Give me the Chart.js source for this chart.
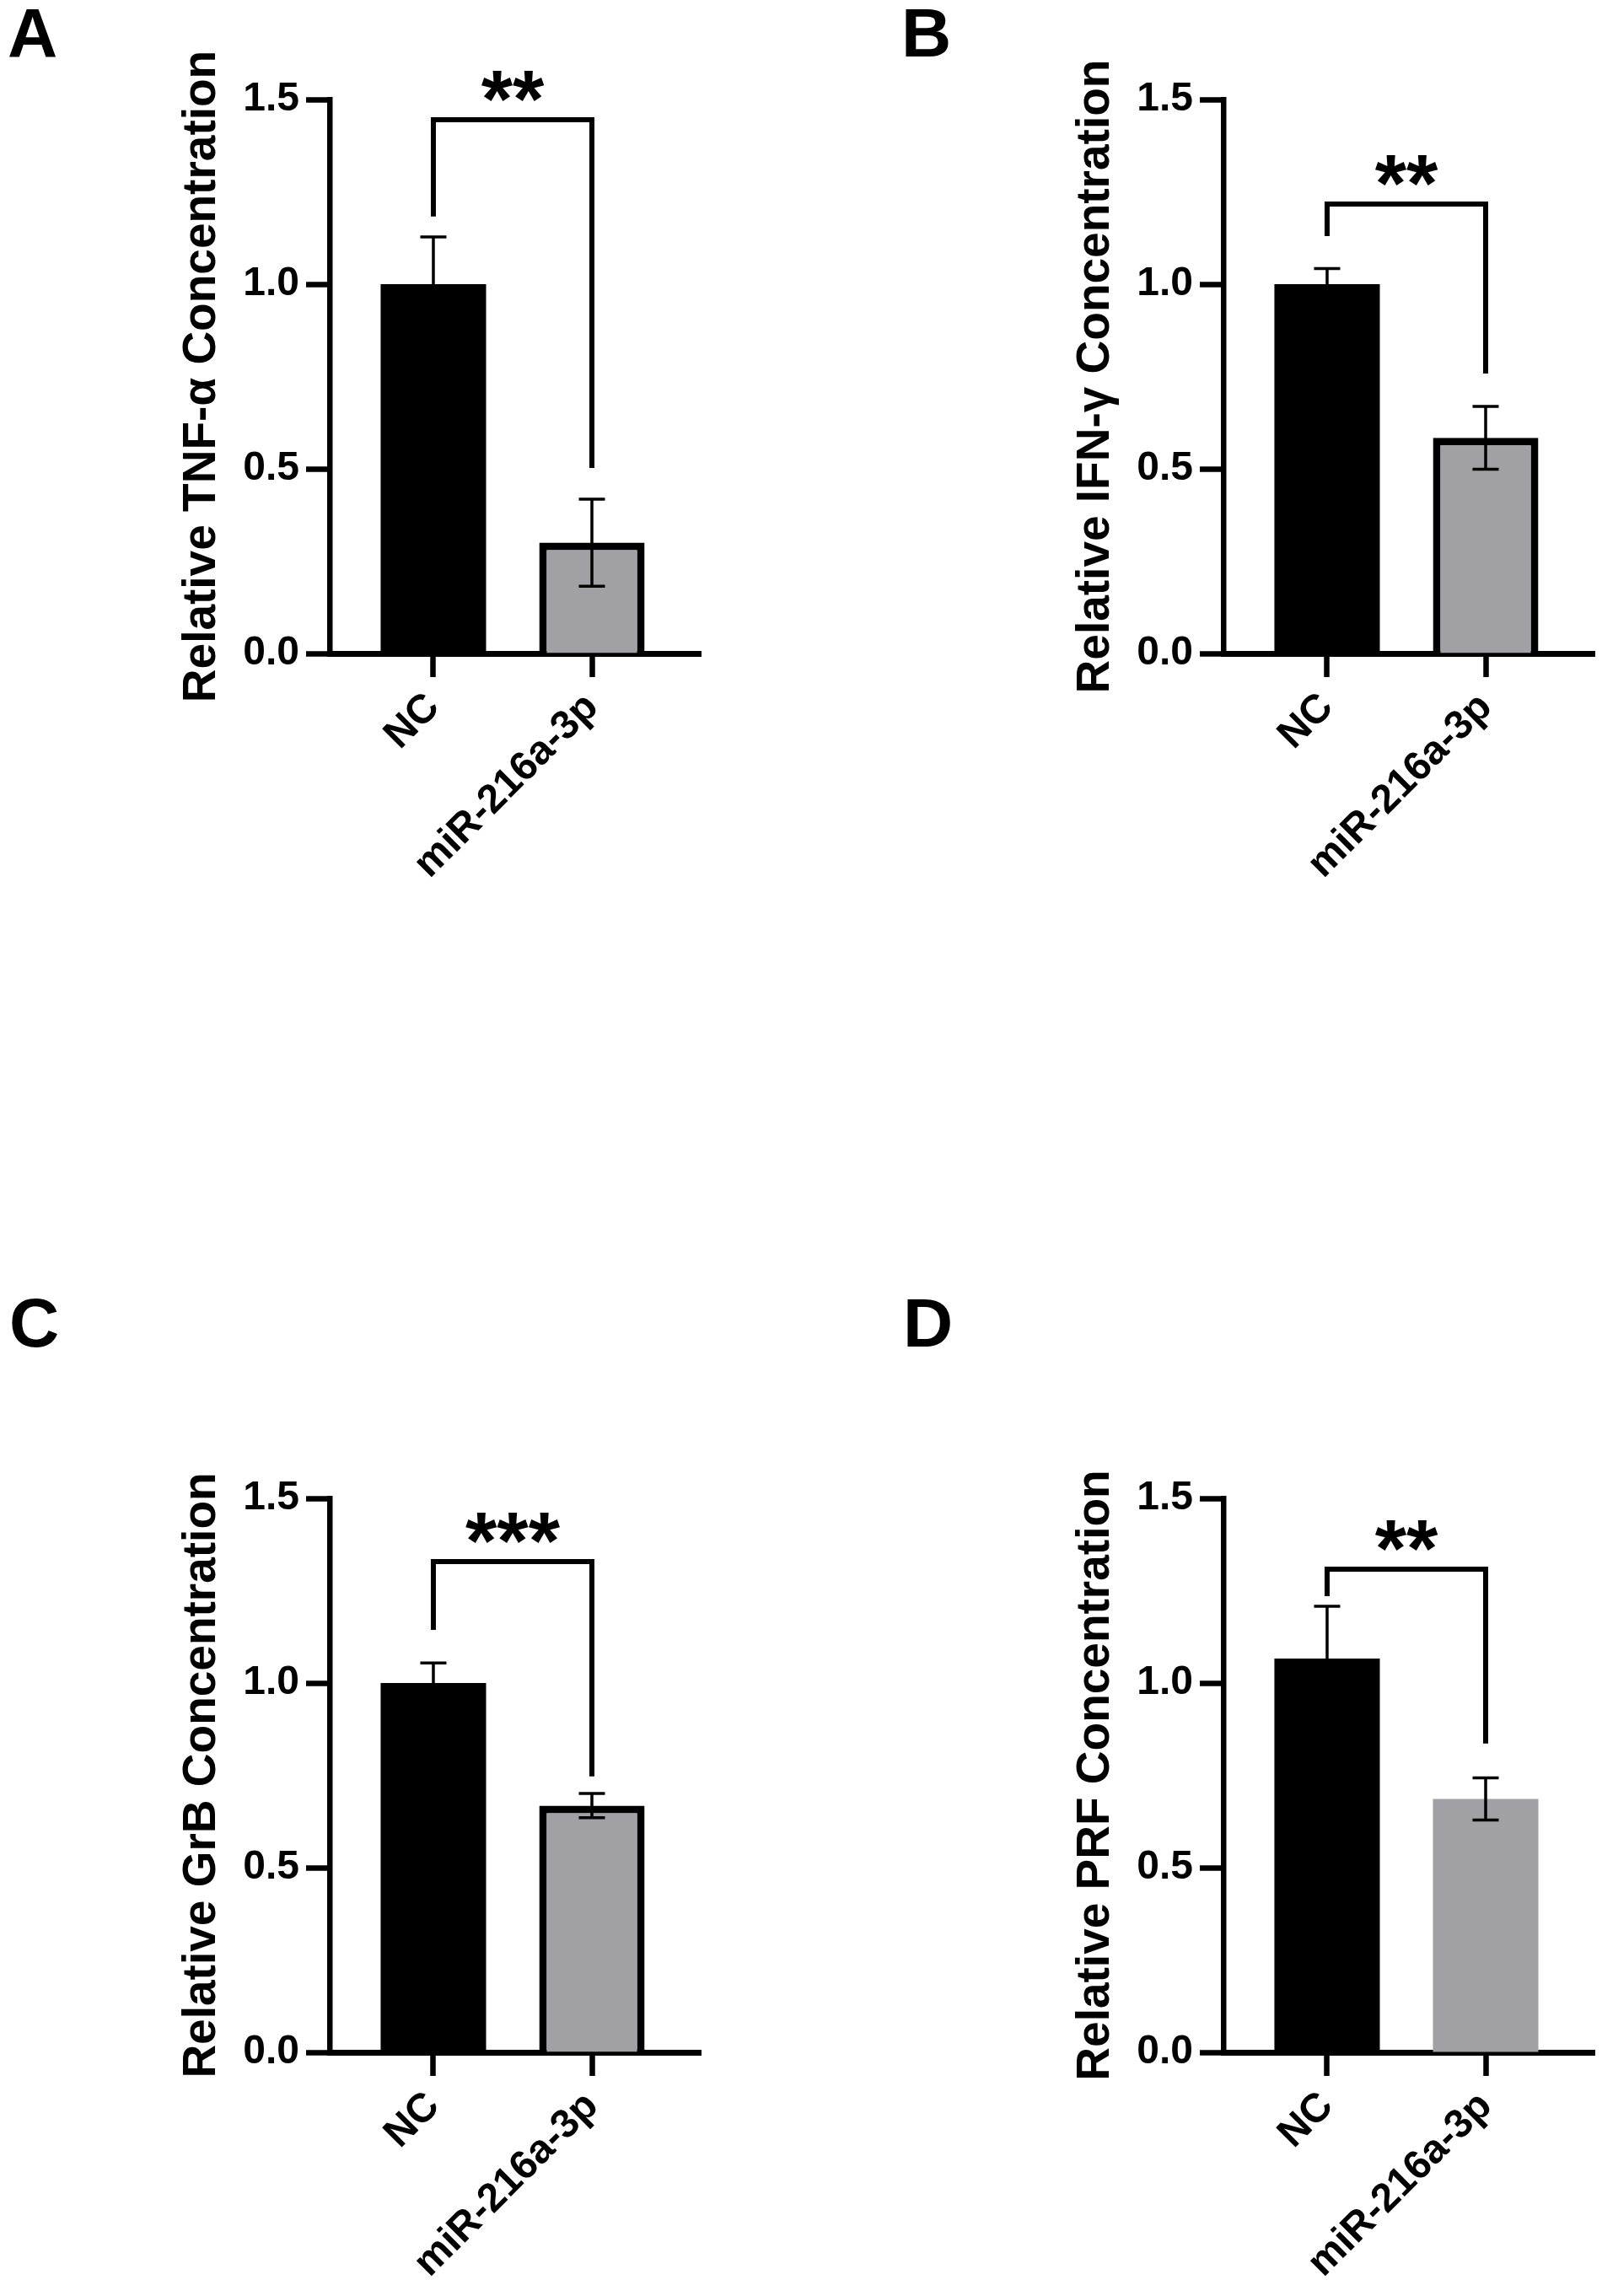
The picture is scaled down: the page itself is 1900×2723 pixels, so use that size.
<!DOCTYPE html>
<html>
<head>
<meta charset="utf-8">
<script src="https://cdn.jsdelivr.net/npm/chart.js@4.4.1/dist/chart.umd.min.js"></script>
<style>
    body { margin: 0; background: #fff; width: 1900px; height: 2723px; position: relative; overflow: hidden; }
    canvas { position: absolute; }
</style>
</head>
<body>
<canvas id="chartA" width="840" height="1060" style="left:0px;top:0px"></canvas>
<canvas id="chartB" width="840" height="1060" style="left:1060px;top:0px"></canvas>
<canvas id="chartC" width="840" height="1240" style="left:0px;top:1480px"></canvas>
<canvas id="chartD" width="840" height="1240" style="left:1060px;top:1480px"></canvas>
<script>
const categories = ['NC', 'miR-216a-3p'];
const yTicks = [0, 0.5, 1.0, 1.5];

// mean and SD per group, bracket = [top, left leg end, right leg end]
const tnfMean = [1.00, 0.30];
const tnfSd = [0.128, 0.118];
const tnfBracket = [1.445, 1.183, 0.502];

const ifnMean = [1.00, 0.584];
const ifnSd = [0.042, 0.085];
const ifnBracket = [1.217, 1.13, 0.758];

const grbMean = [1.00, 0.668];
const grbSd = [0.054, 0.033];
const grbBracket = [1.329, 1.144, 0.747];

const prfMean = [1.066, 0.686];
const prfSd = [0.142, 0.057];
const prfBracket = [1.308, 1.235, 0.836];

const FONT = "'Liberation Sans', Arial, sans-serif";
const GREY = '#a1a1a5';

// error bars, significance bracket and panel letter
const annotations = {
    id: 'annotations',
    afterDatasetsDraw(chart, args, opts) {
        const { ctx, scales: { x, y } } = chart;
        ctx.save();
        ctx.strokeStyle = '#000';
        ctx.lineWidth = 3.5;
        opts.means.forEach((m, i) => {
            const px = x.getPixelForValue(i + 1);
            const top = y.getPixelForValue(m + opts.sds[i]);
            const bot = y.getPixelForValue(m - opts.sds[i]);
            ctx.beginPath();
            ctx.moveTo(px, top);
            ctx.lineTo(px, bot);
            ctx.moveTo(px - 15.5, top);
            ctx.lineTo(px + 15.5, top);
            ctx.moveTo(px - 15.5, bot);
            ctx.lineTo(px + 15.5, bot);
            ctx.stroke();
        });

        const [bTop, bLeft, bRight] = opts.bracket;
        const x1 = x.getPixelForValue(1);
        const x2 = x.getPixelForValue(2);
        const yb = y.getPixelForValue(bTop);
        ctx.lineWidth = 6;
        ctx.lineJoin = 'miter';
        ctx.beginPath();
        ctx.moveTo(x1, y.getPixelForValue(bLeft));
        ctx.lineTo(x1, yb);
        ctx.lineTo(x2, yb);
        ctx.lineTo(x2, y.getPixelForValue(bRight));
        ctx.stroke();

        ctx.fillStyle = '#000';
        ctx.font = `bold 96px ${FONT}`;
        ctx.textAlign = 'center';
        ctx.textBaseline = 'alphabetic';
        ctx.fillText(opts.stars, (x1 + x2) / 2, yb + 8);
        ctx.restore();
    },
    afterDraw(chart, args, opts) {
        const ctx = chart.ctx;
        ctx.save();
        ctx.fillStyle = '#000';
        ctx.font = `bold 82px ${FONT}`;
        ctx.textAlign = 'left';
        ctx.textBaseline = 'alphabetic';
        ctx.fillText(opts.letter, opts.letterX, opts.letterY);
        ctx.restore();
    }
};

function makePanel(id, title, means, sds, bracket, stars, barBorder, letter, letterX, letterY, padTop) {
    const canvas = document.getElementById(id);
    new Chart(canvas, {
        type: 'bar',
        data: {
            datasets: [{
                data: means.map((v, i) => ({ x: i + 1, y: v })),
                backgroundColor: ['#000000', GREY],
                borderColor: '#000000',
                borderWidth: [0, barBorder],
                barPercentage: 0.665,
                categoryPercentage: 1,
            }],
        },
        options: {
            responsive: false,
            animation: false,
            devicePixelRatio: 1,
            layout: { padding: { top: padTop, right: 9, left: 0, bottom: 0 } },
            plugins: {
                legend: { display: false },
                tooltip: { enabled: false },
                annotations: { means, sds, bracket, stars, letter, letterX, letterY },
            },
            scales: {
                x: {
                    type: 'linear',
                    min: 0.346,
                    max: 2.686,
                    offset: false,
                    z: 1,
                    afterBuildTicks: s => { s.ticks = categories.map((c, i) => ({ value: i + 1 })); },
                    afterFit: s => { s.height = canvas.height - padTop - 657; },
                    border: { display: true, color: '#000', width: 7 },
                    grid: { display: true, offset: false, drawOnChartArea: false, drawTicks: true, tickLength: 28, tickWidth: 6.5, tickColor: '#000' },
                    ticks: {
                        autoSkip: false,
                        minRotation: 45,
                        maxRotation: 45,
                        padding: 8,
                        color: '#000',
                        font: { family: FONT, size: 48, weight: 'bold' },
                        callback: v => categories[v - 1],
                    },
                },
                y: {
                    min: 0,
                    max: 1.5,
                    afterBuildTicks: s => { s.ticks = yTicks.map(v => ({ value: v })); },
                    afterFit: s => { s.width = 391; },
                    border: { display: true, color: '#000', width: 6.5 },
                    grid: { display: true, drawOnChartArea: false, drawTicks: true, tickLength: 28, tickWidth: 6.5, tickColor: '#000' },
                    ticks: {
                        padding: 8,
                        color: '#000',
                        font: { family: FONT, size: 48, weight: 'bold' },
                        callback: v => Number(v).toFixed(1),
                    },
                    title: {
                        display: true,
                        text: title,
                        color: '#000',
                        font: { family: FONT, size: 55, weight: 'bold' },
                        padding: { top: 207, bottom: 0 },
                    },
                },
            },
        },
        plugins: [annotations],
    });
}

makePanel('chartA', 'Relative TNF-\u03b1 Concentration', tnfMean, tnfSd, tnfBracket, '**', 9, 'A', 9, 67, 118);
makePanel('chartB', 'Relative IFN-\u03b3 Concentration', ifnMean, ifnSd, ifnBracket, '**', 9, 'B', 9, 67, 118);
makePanel('chartC', 'Relative GrB Concentration', grbMean, grbSd, grbBracket, '***', 9, 'C', 11, 117, 297);
makePanel('chartD', 'Relative PRF Concentration', prfMean, prfSd, prfBracket, '**', 0, 'D', 11, 117, 297);
</script>
</body>
</html>
